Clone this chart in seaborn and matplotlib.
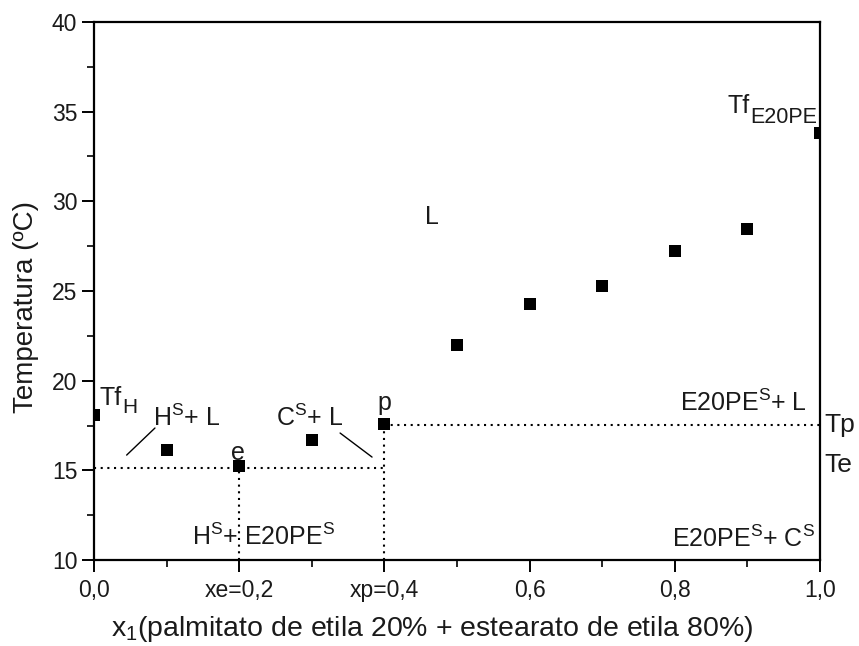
import matplotlib
matplotlib.use("Agg")
import matplotlib.pyplot as plt
import seaborn as sns
import pandas as pd
from matplotlib.ticker import MultipleLocator

# Measured melting temperatures of the binary mixture
x_frac = [0.0, 0.1, 0.2, 0.3, 0.4, 0.5, 0.6, 0.7, 0.8, 0.9, 1.0]
temp_c = [18.1, 16.15, 15.25, 16.7, 17.58, 21.98, 24.27, 25.28, 27.23, 28.47, 33.82]

# Eutectic and peritectic points
x_e, T_e = 0.2, 15.13
x_p, T_p = 0.4, 17.52

x_ticks = [0.0, 0.2, 0.4, 0.6, 0.8, 1.0]
x_tick_labels = ["0,0", "xe=0,2", "xp=0,4", "0,6", "0,8", "1,0"]
y_ticks = [10, 15, 20, 25, 30, 35, 40]

sns.set_theme(style="ticks")
plt.rcParams["font.family"] = ["Liberation Sans", "DejaVu Sans"]
plt.rcParams["mathtext.fontset"] = "custom"
plt.rcParams["mathtext.rm"] = "Liberation Sans"
plt.rcParams["mathtext.it"] = "Liberation Sans:italic"

fig = plt.figure(figsize=(8.59, 6.46), dpi=100)
ax = fig.add_axes([0.1094, 0.1331, 0.8452, 0.8329])

df = pd.DataFrame({"x": x_frac, "T": temp_c})
sns.scatterplot(data=df, x="x", y="T", marker="s", s=70, color="black",
                edgecolor="black", linewidth=0, ax=ax, zorder=3)

dot = dict(color="black", linestyle=(0, (1, 2.2)), linewidth=1.5)
ax.plot([0, x_p], [T_e, T_e], **dot)
ax.plot([x_e, x_e], [10, T_e], **dot)
ax.plot([x_p, x_p], [10, T_p], **dot)
ax.plot([x_p, 1.0], [T_p, T_p], **dot)

ax.set_xlim(0, 1.0)
ax.set_ylim(10, 40)
ax.set_xticks(x_ticks)
ax.set_xticklabels(x_tick_labels)
ax.set_yticks(y_ticks)
ax.xaxis.set_minor_locator(MultipleLocator(0.1))
ax.yaxis.set_minor_locator(MultipleLocator(2.5))
ax.tick_params(which="major", direction="out", length=8.5, width=1.4, labelsize=16.5,
               top=False, right=False, color="black", labelcolor="#1a1a1a")
ax.tick_params(which="minor", direction="out", length=5, width=1.4, top=False, right=False)
ax.tick_params(axis="x", which="major", pad=5)
ax.tick_params(axis="y", which="major", pad=3.5)
for sp in ax.spines.values():
    sp.set_linewidth(1.6)
    sp.set_color("black")

ax.set_xlabel("x$_\\mathregular{1}$(palmitato de etila 20% + estearato de etila 80%)",
              fontsize=20.5, color="#1a1a1a", labelpad=9, x=0.466)
ax.set_ylabel("Temperatura (ºC)", fontsize=20, color="#1a1a1a", labelpad=9, y=0.47)

fs = 18
tc = "#1a1a1a"

# "Tf" labels with a lowered, full-size subscript
t_h = ax.text(0.008, 18.64, "Tf", fontsize=18, color=tc, ha="left", va="baseline")
sub_e = ax.text(0.996, 34.37, "E20PE", fontsize=15.5, color=tc, ha="right", va="baseline")
fig.canvas.draw()
renderer = fig.canvas.get_renderer()
inv = ax.transData.inverted()
bb_h = t_h.get_window_extent(renderer)
x_sub_h = inv.transform((bb_h.x1, 0))[0]
ax.text(x_sub_h, 18.19, "H", fontsize=15, color=tc, ha="left", va="baseline")
bb_e = sub_e.get_window_extent(renderer)
x_main_e = inv.transform((bb_e.x0, 0))[0]
ax.text(x_main_e, 34.93, "Tf", fontsize=18, color=tc, ha="right", va="baseline")

ax.text(0.127, 17.47, "H$^\\mathregular{S}$+ L", fontsize=fs, color=tc, ha="center", va="baseline")
ax.text(0.198, 15.57, "e", fontsize=fs, color=tc, ha="center", va="baseline")
ax.text(0.297, 17.47, "C$^\\mathregular{S}$+ L", fontsize=fs, color=tc, ha="center", va="baseline")
ax.text(0.40, 18.36, "p", fontsize=fs, color=tc, ha="center", va="baseline")
ax.text(0.466, 29.1, "L", fontsize=fs, color=tc, ha="center", va="center")
ax.text(0.982, 18.3, "E20PE$^\\mathregular{S}$+ L", fontsize=fs, color=tc, ha="right", va="baseline")
ax.text(0.993, 10.72, "E20PE$^\\mathregular{S}$+ C$^\\mathregular{S}$", fontsize=fs, color=tc,
        ha="right", va="baseline")
ax.text(0.233, 10.83, "H$^\\mathregular{S}$+ E20PE$^\\mathregular{S}$", fontsize=fs, color=tc,
        ha="center", va="baseline")
ax.text(1.006, T_p, "Tp", fontsize=19, color=tc, ha="left", va="center", clip_on=False)
ax.text(1.006, 15.3, "Te", fontsize=19, color=tc, ha="left", va="center", clip_on=False)

# Leader lines from the region labels to the liquidus branches
ax.plot([0.045, 0.084], [15.85, 17.36], color="black", linewidth=1.0)
ax.plot([0.339, 0.383], [17.08, 15.74], color="black", linewidth=1.0)

fig.savefig("out.png", dpi=100)
